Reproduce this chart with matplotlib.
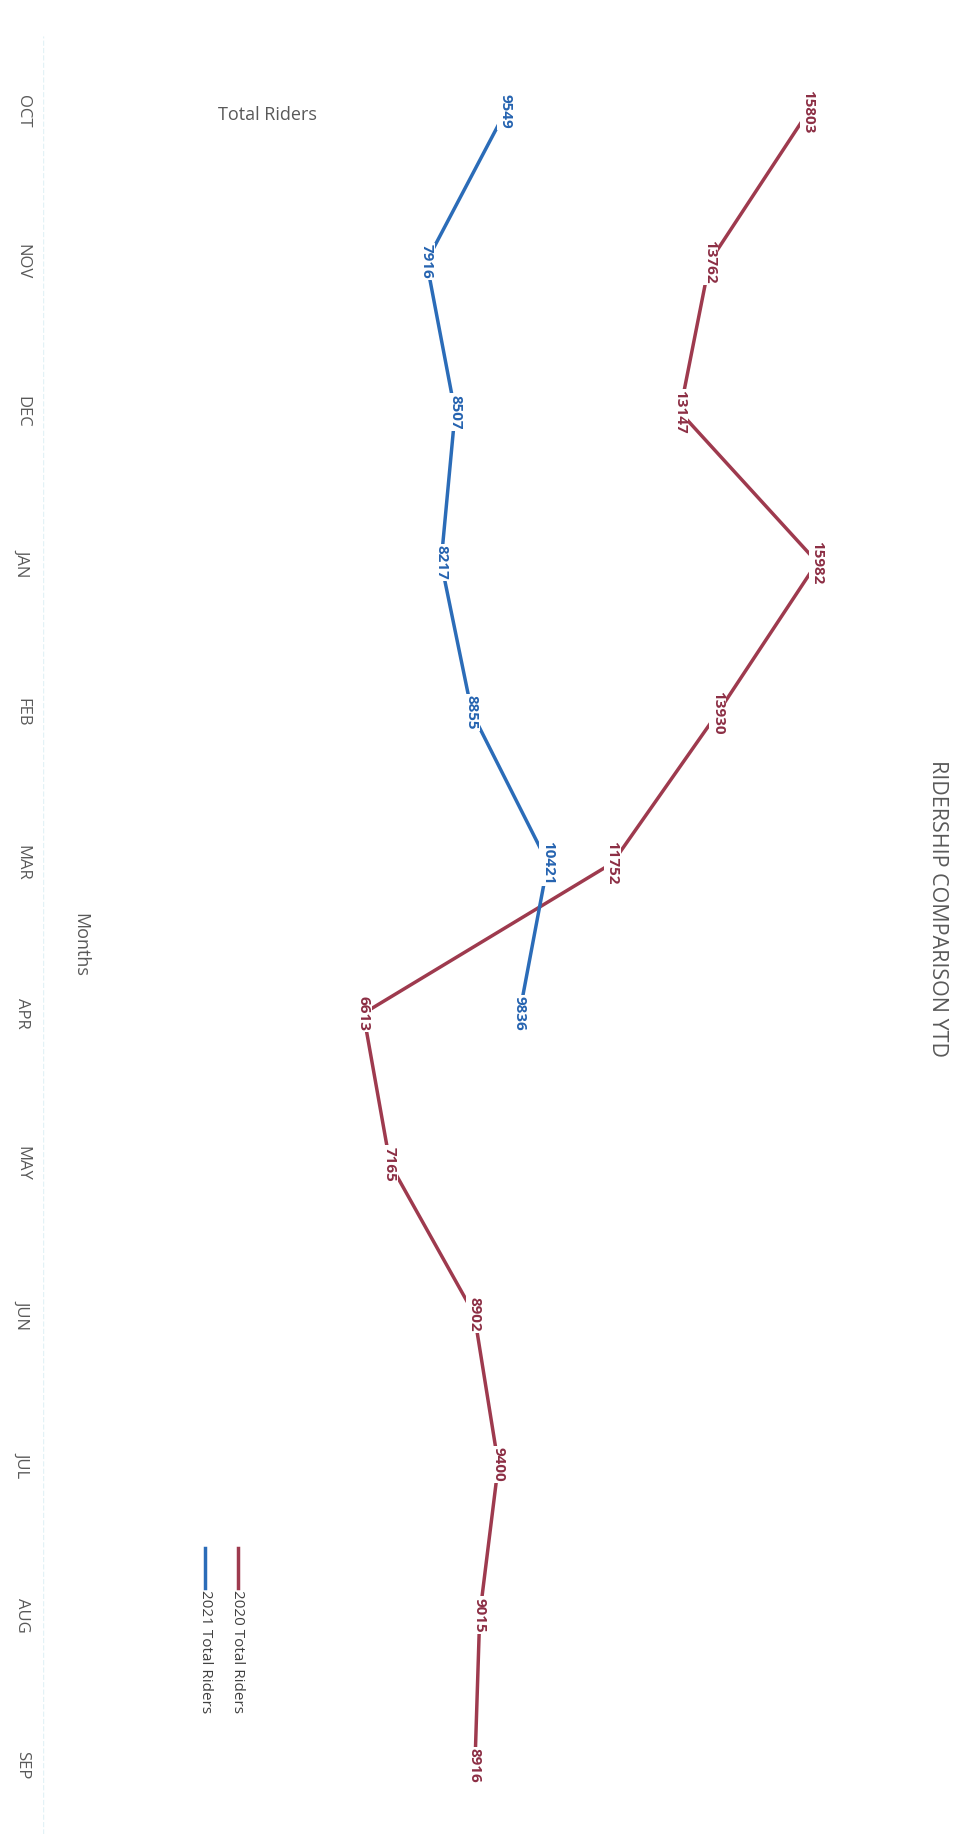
import matplotlib.pyplot as plt
from matplotlib.lines import Line2D

months = ["OCT", "NOV", "DEC", "JAN", "FEB", "MAR", "APR", "MAY", "JUN", "JUL", "AUG", "SEP"]
riders_2020 = [15803, 13762, 13147, 15982, 13930, 11752, 6613, 7165, 8902, 9400, 9015, 8916]
riders_2021 = [9549, 7916, 8507, 8217, 8855, 10421, 9836]

red = "#9e3a4e"
blue = "#2b6cb8"
gray = "#595959"
W, H = 973, 1834

plt.rcParams['font.family'] = ['Open Sans', 'DejaVu Sans']

fig = plt.figure(figsize=(W / 100, H / 100), dpi=100)
ax = fig.add_axes([43 / W, 0, (915 - 43) / W, (H - 36) / H])

y20 = list(range(len(riders_2020)))
y21 = list(range(len(riders_2021)))
ax.plot(riders_2020, y20, color=red, lw=2.5, zorder=2, solid_capstyle='butt')
ax.plot(riders_2021, y21, color=blue, lw=2.5, zorder=3, solid_capstyle='butt')

for v, y in zip(riders_2020, y20):
    ax.text(v, y, str(v), rotation=-90, ha='center', va='center', fontsize=11,
            fontweight='bold', color="#8c2e44", zorder=4,
            bbox=dict(facecolor='white', edgecolor='none', pad=1.0))
for v, y in zip(riders_2021, y21):
    ax.text(v, y, str(v), rotation=-90, ha='center', va='center', fontsize=11,
            fontweight='bold', color="#2563b0", zorder=5,
            bbox=dict(facecolor='white', edgecolor='none', pad=1.0))

ax.set_xlim(0, 18000)
ax.set_ylim(11.456, -0.5)
ax.set_xticks([0])
ax.set_xticklabels([])
ax.grid(axis='x', color="#e3f2f6", ls='--', lw=1)
ax.set_yticks(range(len(months)))
ax.set_yticklabels(months, rotation=-90, va='center', fontsize=12, color=gray)
ax.tick_params(axis='y', length=0, pad=9)
ax.tick_params(axis='x', length=0)
for s in ax.spines.values():
    s.set_visible(False)

def fx(px):
    return px / W

def fy(py):
    return 1 - py / H

fig.text(fx(938), fy(909), "RIDERSHIP COMPARISON YTD", rotation=-90, ha='center', va='center',
         fontsize=15.5, color=gray)
fig.text(fx(267), fy(115), "Total Riders", ha='center', va='center', fontsize=13, color=gray)
fig.text(fx(80), fy(945), "Months", rotation=-90, ha='center', va='center', fontsize=13, color=gray)

# legend (rotated like the rest of the page)
for px, col, lab in [(238, red, "2020 Total Riders"), (205, blue, "2021 Total Riders")]:
    fig.add_artist(Line2D([fx(px), fx(px)], [fy(1548), fy(1588)], color=col, lw=2.5))
    fig.text(fx(px), fy(1652), lab, rotation=-90, ha='center', va='center', fontsize=11,
             color="#404040")

fig.savefig("out.png", dpi=100)
